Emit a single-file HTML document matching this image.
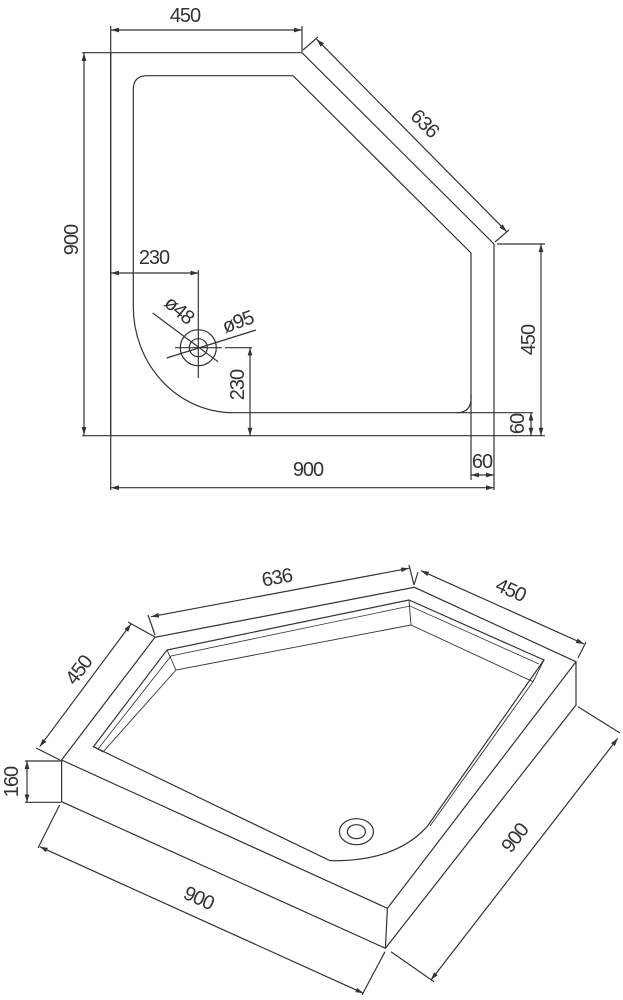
<!DOCTYPE html>
<html><head><meta charset="utf-8"><style>
html,body{margin:0;padding:0;background:#fff;width:623px;height:1000px;overflow:hidden;}
svg{display:block}
text{font-family:"Liberation Sans",sans-serif;font-size:20px;fill:#333;letter-spacing:-1px;}
</style></head><body>
<svg width="623" height="1000" viewBox="0 0 623 1000" xmlns="http://www.w3.org/2000/svg">
<defs>
<marker id="a" viewBox="0 0 10 6" refX="10" refY="3" markerWidth="8" markerHeight="5" orient="auto-start-reverse" markerUnits="userSpaceOnUse"><path d="M0,0 L10,3 L0,6 z" fill="#333"/></marker>
</defs>
<g fill="none" stroke="#333" stroke-width="1.2">
<path d="M110.7,52.7 L302,52.7 L494,244 L494,435.7 L110.7,435.7 Z"/>
<path d="M147,75.7 L293,75.7 L471,253 L471,398 Q471,412.7 457,412.7 L233,412.7 A100,106 0 0 1 133.3,306.7 L133.3,89.7 Q133.3,75.7 147,75.7 Z"/>
<circle cx="198.3" cy="347.7" r="18"/>
<circle cx="198.3" cy="347.7" r="9"/>
<line x1="175" y1="347.7" x2="222" y2="347.7"/>
<line x1="198.3" y1="270" x2="198.3" y2="378"/>
<line x1="110.7" y1="26" x2="110.7" y2="490"/>
<line x1="302" y1="26" x2="302" y2="52"/>
<line x1="111" y1="30" x2="302" y2="30" marker-start="url(#a)" marker-end="url(#a)"/>
<line x1="82" y1="52.7" x2="110" y2="52.7"/>
<line x1="82" y1="435.7" x2="110" y2="435.7"/>
<line x1="84" y1="53" x2="84" y2="435" marker-start="url(#a)" marker-end="url(#a)"/>
<line x1="303" y1="50" x2="318" y2="37"/>
<line x1="495" y1="242" x2="509" y2="230"/>
<line x1="316.7" y1="39.3" x2="506.7" y2="231.7" marker-start="url(#a)" marker-end="url(#a)"/>
<line x1="497" y1="244" x2="545" y2="244"/>
<line x1="494" y1="435.7" x2="545" y2="435.7"/>
<line x1="541" y1="244" x2="541" y2="435.7" marker-start="url(#a)" marker-end="url(#a)"/>
<line x1="456.7" y1="412.7" x2="533" y2="412.7"/>
<line x1="531" y1="412.7" x2="531" y2="435.7" marker-start="url(#a)" marker-end="url(#a)"/>
<line x1="471" y1="395" x2="471" y2="480"/>
<line x1="494" y1="436" x2="494" y2="490"/>
<line x1="471" y1="475" x2="494" y2="475" marker-start="url(#a)" marker-end="url(#a)"/>
<line x1="111" y1="487.7" x2="494" y2="487.7" marker-start="url(#a)" marker-end="url(#a)"/>
<line x1="111" y1="273" x2="198.3" y2="273" marker-start="url(#a)" marker-end="url(#a)"/>
<line x1="225" y1="347.7" x2="252" y2="347.7"/>
<line x1="250" y1="347.7" x2="250" y2="435.7" marker-start="url(#a)" marker-end="url(#a)"/>
<line x1="152.7" y1="313" x2="218" y2="361.7"/>
<line x1="166.7" y1="358" x2="256" y2="330"/>

<path d="M61.6,760 L155,637.3 L414.4,587.3 L576,661.7 L387.4,908.3 Z"/>
<path d="M61.6,760 L61.6,801.7 L385.4,948.3 L576,705 L576,661.7"/>
<path d="M387.4,908.3 L385.4,948.3"/>
<path d="M93.4,746.7 L167,650 L409,600 L544,660 L427,826.7 Q395,862 330,860.7 L93.4,746.7 Z"/>
<path d="M98,749 L171,656 L410,606 L539,664" stroke-width="0.8"/>
<path d="M103,752 L176,670 L411,625 L533,681.7 L430,826" stroke-width="0.9"/>
<path d="M167,650 L176,670 M409,600 L411,625 M544,660 L533,681.7 M93.4,746.7 L103,752" stroke-width="0.9"/>
<ellipse cx="356.4" cy="831.7" rx="17" ry="13"/>
<ellipse cx="356.4" cy="831.7" rx="9" ry="7"/>
<line x1="151" y1="616.7" x2="409" y2="568.3" marker-start="url(#a)" marker-end="url(#a)"/>
<line x1="148" y1="615" x2="155" y2="635"/>
<line x1="409" y1="565" x2="414" y2="585"/>
<line x1="421" y1="570.7" x2="584" y2="644" marker-start="url(#a)" marker-end="url(#a)"/>
<line x1="418" y1="572" x2="414" y2="585"/>
<line x1="586" y1="642" x2="578" y2="658"/>
<line x1="39.7" y1="746.7" x2="131" y2="624" marker-start="url(#a)" marker-end="url(#a)"/>
<line x1="36" y1="748" x2="60" y2="760"/>
<line x1="128" y1="622" x2="155" y2="637"/>
<line x1="25" y1="761" x2="61" y2="761"/>
<line x1="25" y1="802.3" x2="61" y2="802.3"/>
<line x1="27" y1="761" x2="27" y2="802.3" marker-start="url(#a)" marker-end="url(#a)"/>
<line x1="39.7" y1="846.7" x2="363.5" y2="993.3" marker-start="url(#a)" marker-end="url(#a)"/>
<line x1="59.6" y1="805" x2="38" y2="848"/>
<line x1="385" y1="951.7" x2="362" y2="995"/>
<line x1="431" y1="980" x2="617.8" y2="738.3" marker-start="url(#a)" marker-end="url(#a)"/>
<line x1="391" y1="951.7" x2="434" y2="981.7"/>
<line x1="578" y1="706.7" x2="620" y2="733"/>
</g>
<g>
<text x="185" y="22" text-anchor="middle">450</text>
<text transform="translate(78,240) rotate(-90)" text-anchor="middle">900</text>
<text transform="translate(420,128) rotate(45)" text-anchor="middle">636</text>
<text transform="translate(535,340) rotate(-90)" text-anchor="middle">450</text>
<text transform="translate(524,424) rotate(-90)" text-anchor="middle" font-size="17">60</text>
<text x="482" y="468" text-anchor="middle" font-size="17">60</text>
<text x="308" y="476" text-anchor="middle">900</text>
<text x="154" y="264" text-anchor="middle">230</text>
<text transform="translate(244,385) rotate(-90)" text-anchor="middle">230</text>
<text transform="translate(175,315) rotate(40)" text-anchor="middle" font-size="17">ø48</text>
<text transform="translate(240,328) rotate(-20)" text-anchor="middle" font-size="17">ø95</text>
<text transform="translate(278,584) rotate(-10.6)" text-anchor="middle">636</text>
<text transform="translate(508,596) rotate(24)" text-anchor="middle">450</text>
<text transform="translate(84,674) rotate(-53)" text-anchor="middle">450</text>
<text transform="translate(18,782) rotate(-90)" text-anchor="middle">160</text>
<text transform="translate(196,904) rotate(24.4)" text-anchor="middle">900</text>
<text transform="translate(520,842) rotate(-52.3)" text-anchor="middle">900</text>
</g>
</svg>
</body></html>
